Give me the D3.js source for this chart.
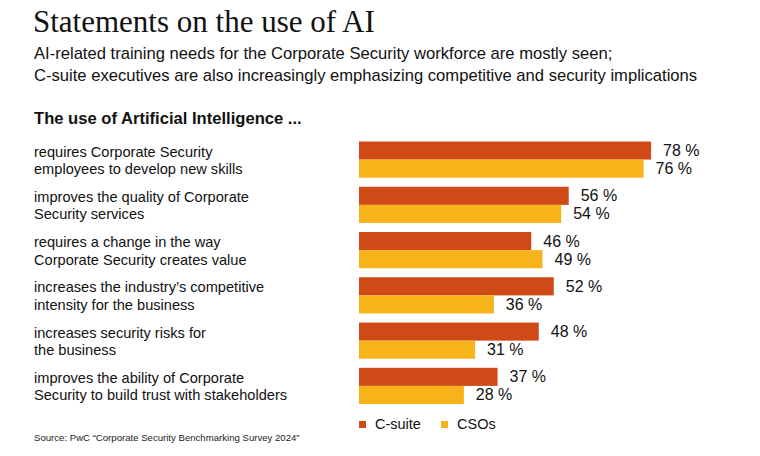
<!DOCTYPE html>
<html><head><meta charset="utf-8">
<script src="https://cdn.jsdelivr.net/npm/d3@7"></script>
<style>body{margin:0;background:#fff}</style>
</head><body>
<script>
const categories = [
  ["requires Corporate Security", "employees to develop new skills"],
  ["improves the quality of Corporate", "Security services"],
  ["requires a change in the way", "Corporate Security creates value"],
  ["increases the industry’s competitive", "intensity for the business"],
  ["increases security risks for", "the business"],
  ["improves the ability of Corporate", "Security to build trust with stakeholders"]
];
const seriesNames = ["C-suite", "CSOs"];
const csuite = [78, 56, 46, 52, 48, 37];
const csos = [76, 54, 49, 36, 31, 28];
const colors = ["#d04a17", "#f8b31b"];

const W = 760, H = 456;
const svg = d3.select("body").append("svg").attr("width", W).attr("height", H);
const sans = "'Liberation Sans', Arial, Helvetica, sans-serif";

svg.append("text").attr("x", 33).attr("y", 32).attr("font-family", "'Liberation Serif', 'DejaVu Serif', serif")
  .attr("font-size", 31).attr("fill", "#111").text("Statements on the use of AI");
svg.append("text").attr("x", 34).attr("y", 59).attr("font-family", sans).attr("font-size", 16.6).attr("fill", "#111")
  .text("AI-related training needs for the Corporate Security workforce are mostly seen;");
svg.append("text").attr("x", 34).attr("y", 81).attr("font-family", sans).attr("font-size", 16.6).attr("fill", "#111")
  .text("C-suite executives are also increasingly emphasizing competitive and security implications");
svg.append("text").attr("x", 34).attr("y", 124).attr("font-family", sans).attr("font-size", 16.6).attr("font-weight", "bold").attr("fill", "#111")
  .text("The use of Artificial Intelligence ...");

const x = d3.scaleLinear().domain([0, 100]).range([359, 733.5]);
const y = d3.scaleBand().domain(d3.range(categories.length)).range([141.5, 404]).paddingInner(0.2).paddingOuter(0);
const sub = d3.scaleBand().domain([0, 1]).range([0, y.bandwidth()]);

const rows = categories.map((c, i) => ({i, label: c, vals: [csuite[i], csos[i]]}));
const g = svg.selectAll("g.row").data(rows).join("g").attr("class", "row")
  .attr("transform", d => `translate(0,${y(d.i)})`);

g.each(function(d) {
  const gg = d3.select(this);
  const t = gg.append("text").attr("x", 34).attr("font-family", sans).attr("font-size", 14.6).attr("fill", "#111");
  d.label.forEach((line, k) => t.append("tspan").attr("x", 34).attr("y", 15 + k * 17.5).text(line));
  d.vals.forEach((v, k) => {
    gg.append("rect").attr("x", x(0)).attr("y", sub(k)).attr("width", x(v) - x(0)).attr("height", sub.bandwidth())
      .attr("fill", colors[k]);
    gg.append("text").attr("x", x(v) + 12).attr("y", sub(k) + sub.bandwidth() / 2 + 5.5)
      .attr("font-family", sans).attr("font-size", 16).attr("fill", "#111").text(v + " %");
  });
});

const legX = [359, 441];
seriesNames.forEach((n, k) => {
  svg.append("rect").attr("x", legX[k]).attr("y", 421).attr("width", 7).attr("height", 7).attr("fill", colors[k]);
  svg.append("text").attr("x", legX[k] + 16).attr("y", 429).attr("font-family", sans).attr("font-size", 14.5).attr("fill", "#111").text(n);
});

svg.append("text").attr("x", 34).attr("y", 441).attr("font-family", sans).attr("font-size", 9.6).attr("fill", "#222")
  .text("Source: PwC “Corporate Security Benchmarking Survey 2024”");
</script>
</body></html>
